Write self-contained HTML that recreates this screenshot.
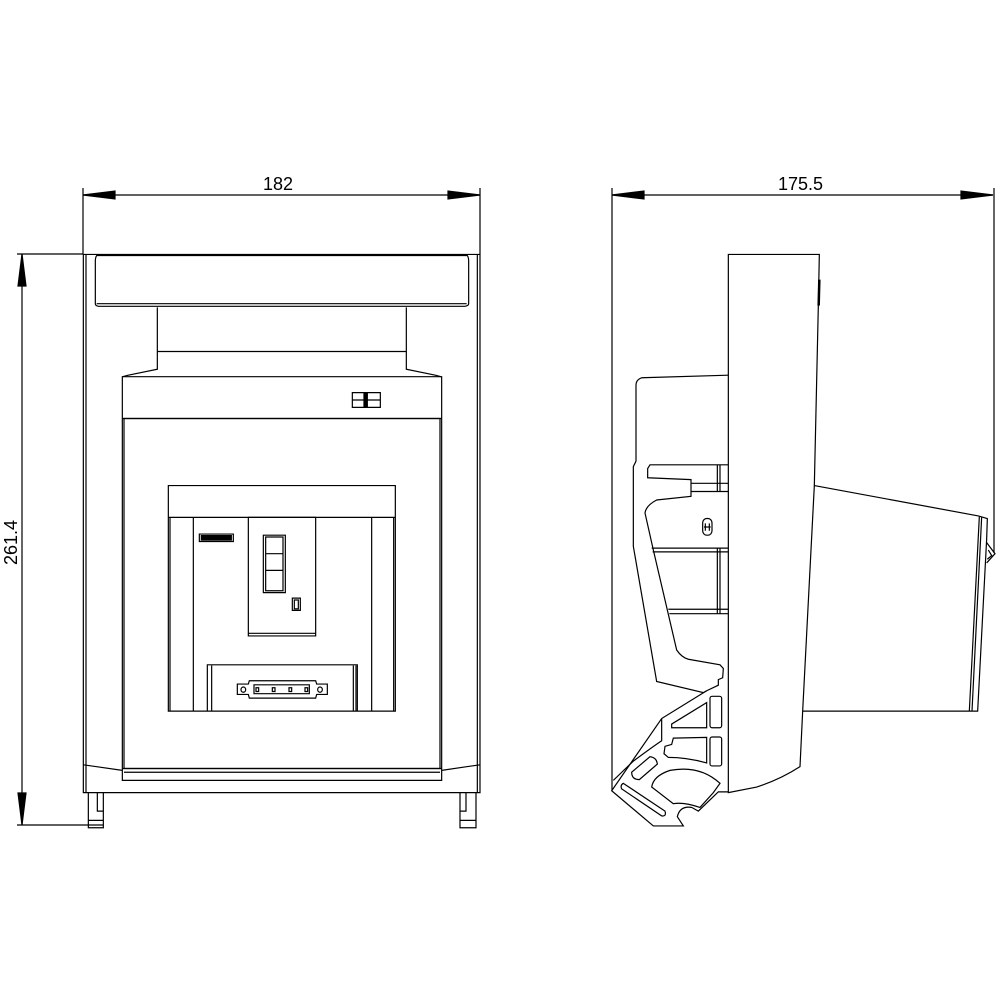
<!DOCTYPE html>
<html><head><meta charset="utf-8"><style>
html,body{margin:0;padding:0;background:#fff}
svg{display:block}
text{font-family:"Liberation Sans",sans-serif;font-size:18px;fill:#000}
.s *{vector-effect:non-scaling-stroke}
</style></head><body>
<svg width="1000" height="1000" viewBox="0 0 1000 1000" fill="none" stroke="#000" stroke-width="1.2">
<!-- dimensions -->
<line x1="83" y1="195" x2="480" y2="195"/>
<line x1="83" y1="188" x2="83" y2="254"/>
<line x1="480" y1="188" x2="480" y2="254"/>
<polygon points="83,195 115,191 115,199" fill="#000"/>
<polygon points="480,195 448,191 448,199" fill="#000"/>
<text x="263" y="190" stroke="none">182</text>
<line x1="612" y1="195" x2="993" y2="195"/>
<line x1="612" y1="188" x2="612" y2="790"/>
<line x1="994" y1="188" x2="994" y2="553"/>
<polygon points="612,195 644,191 644,199" fill="#000"/>
<polygon points="993,195 961,191 961,199" fill="#000"/>
<text x="778" y="190" stroke="none">175.5</text>
<line x1="22" y1="254" x2="22" y2="825"/>
<line x1="17" y1="254" x2="83" y2="254"/>
<line x1="17" y1="825" x2="103" y2="825"/>
<polygon points="22,254 18,286 26,286" fill="#000"/>
<polygon points="22,825 18,793 26,793" fill="#000"/>
<text x="0" y="0" stroke="none" transform="translate(17,565) rotate(-90)">261.4</text>

<!-- left view in zoom coords -->
<g class="s" transform="translate(80,250) scale(0.33333,0.37037)">
<rect x="10" y="12" width="1190" height="1453"/>
<line x1="18" y1="12" x2="18" y2="1465"/>
<line x1="1192" y1="12" x2="1192" y2="1465"/>
<path d="M50,15 L1162,15 Q1166,20 1166,30 L1166,145 Q1166,150 1155,152 L55,152 Q46,150 46,145 L46,30 Q46,20 50,15Z"/>
<line x1="50" y1="145" x2="1160" y2="145"/>
<path d="M232,155 L232,322 L145,338 L128,342"/>
<path d="M979,155 L979,322 L1066,338 L1083,342"/>
<line x1="232" y1="274" x2="979" y2="274"/>
<rect x="127" y="342" width="958" height="1090"/>
<line x1="127" y1="455" x2="1085" y2="455"/>
<rect x="132" y="455" width="948" height="945"/>
<line x1="127" y1="1400" x2="1085" y2="1400"/>
<line x1="132" y1="1410" x2="1080" y2="1410"/>
<path d="M10,1390 L50,1395 L127,1405"/>
<path d="M1200,1390 L1160,1395 L1085,1405"/>
<rect x="817" y="385" width="84" height="40"/>
<line x1="817" y1="405" x2="901" y2="405"/>
<rect x="852" y="385" width="10" height="40" fill="#000"/>
<rect x="265" y="636" width="681" height="609"/>
<line x1="265" y1="722" x2="946" y2="722"/>
<line x1="270" y1="722" x2="270" y2="1245"/>
<line x1="941" y1="722" x2="941" y2="1245"/>
<line x1="340" y1="722" x2="340" y2="1245"/>
<line x1="875" y1="722" x2="875" y2="1245"/>
<rect x="358" y="767" width="102" height="20"/>
<rect x="364" y="771" width="90" height="12" fill="#000"/>
<rect x="505" y="722" width="202" height="320" fill="#fff"/>
<line x1="505" y1="1035" x2="707" y2="1035"/>
<rect x="550" y="770" width="66" height="155"/>
<rect x="557" y="775" width="52" height="145"/>
<line x1="557" y1="820" x2="609" y2="820"/>
<line x1="557" y1="865" x2="609" y2="865"/>
<rect x="637" y="940" width="24" height="33"/>
<rect x="643" y="945" width="12" height="24"/>
<path d="M382,1245 L382,1120 L832,1120 L832,1245"/>
<line x1="395" y1="1122" x2="395" y2="1245"/>
<line x1="820" y1="1122" x2="820" y2="1245"/>
<line x1="828" y1="1122" x2="828" y2="1245"/>
<path d="M472,1172 L505,1172 L508,1163 L707,1163 L710,1172 L742,1172 L742,1200 L710,1200 L707,1210 L508,1210 L505,1200 L472,1200Z"/>
<rect x="522" y="1174" width="166" height="24"/>
<circle cx="490" cy="1187" r="7"/><circle cx="720" cy="1187" r="7"/>
<rect x="528" y="1182" width="8" height="10"/><rect x="577" y="1182" width="8" height="10"/>
<rect x="627" y="1182" width="8" height="10"/><rect x="675" y="1182" width="8" height="10"/>
<path d="M25,1465 L25,1560 L70,1560 L70,1465"/>
<path d="M52,1465 L52,1515 L70,1515 M25,1540 L70,1540"/>
<path d="M1140,1465 L1140,1560 L1188,1560 L1188,1465"/>
<path d="M1158,1465 L1158,1515 L1140,1515 M1140,1540 L1188,1540"/>
</g>

<!-- right view -->
<g class="s" transform="translate(600,250) scale(0.33333,0.37037)">
<path d="M385,12 L658,12 L655,150 L643,636 L608,1245 L600,1395 Q540,1430 470,1450 L385,1465 Z"/>
<path d="M658,80 L656,150" stroke-width="2.5"/>
<path d="M643,636 L1135,718 L1162,725 L1160,780 L1133,1245 L608,1245"/>
<path d="M1138,720 L1108,1245 M1145,721 L1116,1245"/>
<path d="M1160,790 L1185,820 L1160,845 M1165,810 L1175,825 L1162,835"/>
<path d="M385,338 L125,345 Q108,350 108,365 L108,570 L100,585 L100,800 L170,1165 L310,1195 L320,1190"/>
<path d="M385,580 L150,580 L143,590 L143,615 L273,620 L273,665 L170,675 Q138,690 135,710 L160,810 L230,1080 Q245,1100 265,1105 L360,1120 L370,1130 L368,1155 L355,1160 L355,1175 L320,1190"/>
<path d="M273,630 L385,630 M273,652 L385,652 M155,805 L385,805 M158,815 L385,815 M205,970 L385,970 M208,982 L385,982"/>
<path d="M352,580 L352,652 M360,580 L360,652 M352,805 L352,982 M360,805 L360,982"/>
<rect x="308" y="725" width="28" height="45" rx="12"/>
<path d="M316,738 L316,758 M328,738 L328,758 M312,748 L332,748"/>
<path d="M320,1190 L185,1265 L35,1460 L160,1555 L250,1555 L232,1530 Q240,1500 275,1505 L295,1515 L355,1463 L385,1463"/>
<path d="M185,1265 L185,1325 Q160,1340 100,1380 L40,1432"/>
<path d="M215,1280 L320,1222 L320,1290 L215,1290Z"/>
<rect x="330" y="1205" width="35" height="85" rx="6"/>
<path d="M220,1318 L320,1316 L320,1385 Q260,1370 205,1370 L192,1360 L195,1340 L215,1335Z"/>
<rect x="330" y="1315" width="35" height="78" rx="6"/>
<path d="M95,1410 L150,1368 Q170,1370 172,1388 L118,1430 Q95,1430 95,1410Z"/>
<path d="M70,1440 L195,1515 Q200,1530 185,1528 L65,1455 Q60,1445 70,1440Z"/>
<path d="M155,1450 Q160,1420 210,1405 Q300,1390 360,1440 L340,1465 L300,1505 Q250,1490 220,1495 Z"/>
</g>
</svg>
</body></html>
